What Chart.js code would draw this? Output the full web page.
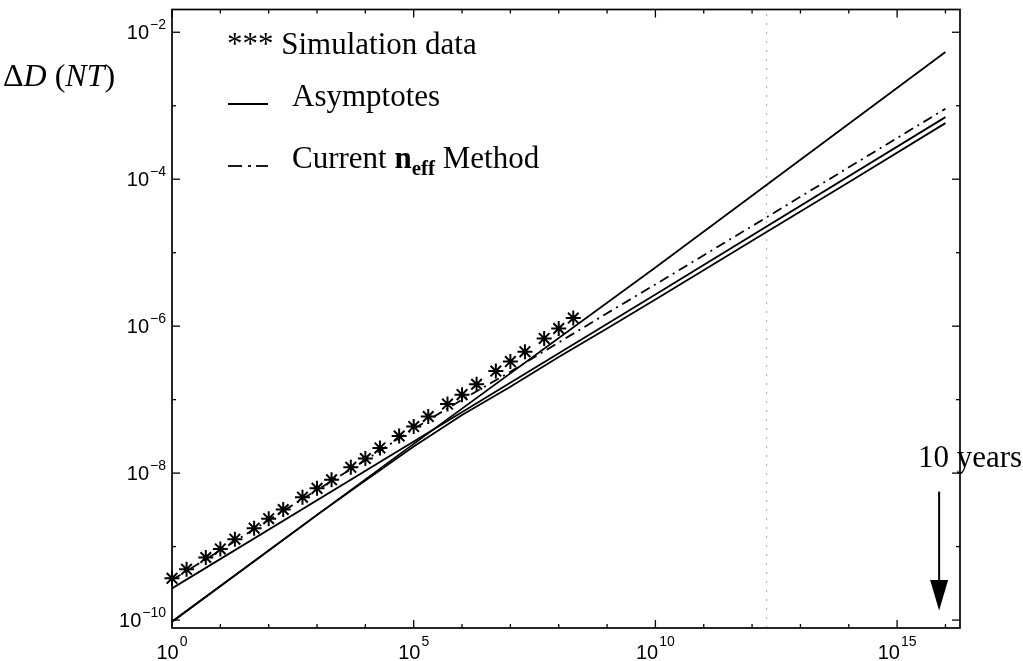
<!DOCTYPE html>
<html>
<head>
<meta charset="utf-8">
<script src="https://cdn.jsdelivr.net/npm/chart.js@4.4.1/dist/chart.umd.min.js"></script>
<style>
  html, body { margin: 0; padding: 0; background: #fff; }
  #wrap { position: relative; width: 1023px; height: 661px; }
</style>
</head>
<body>
<div id="wrap"><canvas id="c"></canvas></div>
<script>
// simulation points (1, 2, 5 per decade)
const simX = [1, 2, 5, 10, 20, 50, 1e2, 2e2, 5e2, 1e3, 2e3, 5e3, 1e4, 2e4, 5e4,
  1e5, 2e5, 5e5, 1e6, 2e6, 5e6, 1e7, 2e7, 5e7, 1e8, 2e8];
const simY = [3.7e-10, 4.9e-10, 7.1e-10, 9.3e-10, 1.26e-9, 1.78e-9, 2.4e-9, 3.2e-9, 4.7e-9,
  6.2e-9, 8.1e-9, 1.2e-8, 1.58e-8, 2.2e-8, 3.2e-8, 4.3e-8, 5.9e-8, 8.7e-8, 1.17e-7,
  1.62e-7, 2.45e-7, 3.3e-7, 4.5e-7, 6.8e-7, 9.3e-7, 1.29e-6];

// asymptotes (solid)
const asymA_X = [1, 1e5, 1e10, 1e16];
const asymA_Y = [9.5e-11, 2.5e-8, 6.3e-6, 5.4e-3];
const asymB_X = [1, 1e5, 1e10, 1e16];
const asymB_Y = [2.7e-10, 2.7e-8, 2.7e-6, 7.0e-4];
const asymC_X = [1, 1e3, 1e4, 1e5, 1e6, 1e7, 1e8, 1e9, 1e10, 1e12, 1e14, 1e16];
const asymC_Y = [9.5e-11, 2.7e-9, 7.9e-9, 2.3e-8, 6.2e-8, 1.5e-7, 3.8e-7, 9.3e-7, 2.3e-6, 1.45e-5, 9.1e-5, 5.8e-4];

// current n_eff method (dash-dot)
const neffX = [1, 10, 1e2, 1e3, 1e4, 1e5, 1e6, 1e7, 1e8, 1e9, 1e10, 1e12, 1e14, 1e16];
const neffY = [3.5e-10, 8.9e-10, 2.3e-9, 5.9e-9, 1.5e-8, 4.0e-8, 1.0e-7, 2.4e-7, 6.0e-7,
  1.5e-6, 3.7e-6, 2.3e-5, 1.45e-4, 9.1e-4];

// faint dotted fold line of the scan
const foldX = [2e12, 2e12];
const foldY = [7.8e-11, 2.04e-2];

// axes
const xMin = 1, xMax = 2e16, yMin = 7.8e-11, yMax = 2.04e-2;
const xTicks = [1, 1e1, 1e2, 1e3, 1e4, 1e5, 1e6, 1e7, 1e8, 1e9, 1e10, 1e11, 1e12, 1e13, 1e14, 1e15, 1e16];
const xLabelTicks = [1, 1e5, 1e10, 1e15];
const xLabelExp = ['0', '5', '10', '15'];
const yTicks = [1e-10, 1e-9, 1e-8, 1e-7, 1e-6, 1e-5, 1e-4, 1e-3, 1e-2];
const yLabelTicks = [1e-10, 1e-8, 1e-6, 1e-4, 1e-2];
const yLabelExp = ['\u221210', '\u22128', '\u22126', '\u22124', '\u22122'];

// "10 years" arrow
const arrowX = 7.4e15;
const arrowFromY = 5.6e-9, arrowHeadY = 3.5e-10, arrowToY = 1.35e-10;

const pts = (xs, ys) => xs.map((v, i) => ({ x: v, y: ys[i] }));

const SERIF = '"Liberation Serif", "Times New Roman", serif';
const SANS = '"Liberation Sans", Arial, sans-serif';

const decor = {
  id: 'decor',
  afterDraw(chart) {
    const { ctx, chartArea: a, scales: { x, y } } = chart;
    ctx.save();
    ctx.strokeStyle = '#000';
    ctx.fillStyle = '#000';

    // frame
    ctx.lineWidth = 1.7;
    ctx.strokeRect(a.left, a.top, a.right - a.left, a.bottom - a.top);

    // ticks, inward on all four sides
    ctx.lineWidth = 1.3;
    const seg = (x1, y1, x2, y2) => { ctx.beginPath(); ctx.moveTo(x1, y1); ctx.lineTo(x2, y2); ctx.stroke(); };
    xTicks.forEach(v => {
      const px = x.getPixelForValue(v);
      const len = xLabelTicks.includes(v) ? 8 : 4;
      seg(px, a.bottom, px, a.bottom - len);
      seg(px, a.top, px, a.top + len);
    });
    yTicks.forEach(v => {
      const py = y.getPixelForValue(v);
      const len = yLabelTicks.includes(v) ? 8 : 4;
      seg(a.left, py, a.left + len, py);
      seg(a.right, py, a.right - len, py);
    });

    // x tick labels: 10 with superscript
    ctx.textBaseline = 'alphabetic';
    xLabelTicks.forEach((v, i) => {
      const px = x.getPixelForValue(v);
      ctx.font = '20px ' + SANS;
      const wb = ctx.measureText('10').width;
      ctx.font = '14px ' + SANS;
      const we = ctx.measureText(xLabelExp[i]).width;
      const left = px - (wb + 1 + we) / 2;
      ctx.textAlign = 'left';
      ctx.font = '20px ' + SANS;
      ctx.fillText('10', left, 659);
      ctx.font = '14px ' + SANS;
      ctx.fillText(xLabelExp[i], left + wb + 1, 646);
    });

    // y tick labels
    yLabelTicks.forEach((v, i) => {
      const py = y.getPixelForValue(v);
      ctx.font = '14px ' + SANS;
      const we = ctx.measureText(yLabelExp[i]).width;
      ctx.textAlign = 'left';
      const right = 166;
      ctx.fillText(yLabelExp[i], right - we, py - 3.5);
      ctx.font = '20px ' + SANS;
      const wb = ctx.measureText('10').width;
      ctx.fillText('10', right - we - 1 - wb, py + 7);
    });

    // y axis title: ΔD (NT)
    let tx = 3;
    const ty = 86;
    const part = (txt, font) => { ctx.font = font; ctx.fillText(txt, tx, ty); tx += ctx.measureText(txt).width; };
    part('\u0394', '32px ' + SERIF);
    part('D', 'italic 32px ' + SERIF);
    part(' (', '32px ' + SERIF);
    part('NT', 'italic 32px ' + SERIF);
    part(')', '32px ' + SERIF);

    // legend
    ctx.font = '31px ' + SERIF;
    ctx.fillText('*** Simulation data', 227, 54);

    ctx.lineWidth = 1.8;
    seg(228, 104, 268, 104);
    ctx.fillText('Asymptotes', 292, 106);

    seg(228, 166, 242, 166);
    seg(248, 166, 251, 166);
    seg(256, 166, 268, 166);
    let lx = 292;
    const lpart = (txt, font, by) => { ctx.font = font; ctx.fillText(txt, lx, by); lx += ctx.measureText(txt).width; };
    lpart('Current ', '31px ' + SERIF, 168);
    lpart('n', 'bold 31px ' + SERIF, 168);
    lpart('eff', 'bold 21px ' + SERIF, 175);
    lpart(' Method', '31px ' + SERIF, 168);

    // 10 years arrow
    ctx.font = '31px ' + SERIF;
    ctx.fillText('10 years', 918, 467);
    const ax = x.getPixelForValue(arrowX);
    const y1 = y.getPixelForValue(arrowFromY);
    const y2 = y.getPixelForValue(arrowHeadY);
    const y3 = y.getPixelForValue(arrowToY);
    ctx.lineWidth = 2;
    seg(ax, y1, ax, y2);
    ctx.beginPath();
    ctx.moveTo(ax - 9, y2);
    ctx.lineTo(ax + 9, y2);
    ctx.lineTo(ax, y3);
    ctx.closePath();
    ctx.fill();

    ctx.restore();
  }
};

new Chart(document.getElementById('c'), {
  type: 'scatter',
  data: {
    datasets: [
      { data: pts(simX, simY), showLine: false, pointStyle: 'star', pointRadius: 7.5,
        borderColor: '#000', backgroundColor: '#000', borderWidth: 2, clip: false },
      { data: pts(neffX, neffY), showLine: true, pointRadius: 0, borderColor: '#000',
        borderWidth: 1.8, borderDash: [10, 5, 2, 5] },
      { data: pts(asymA_X, asymA_Y), showLine: true, pointRadius: 0, borderColor: '#000', borderWidth: 1.8 },
      { data: pts(asymB_X, asymB_Y), showLine: true, pointRadius: 0, borderColor: '#000', borderWidth: 1.8 },
      { data: pts(asymC_X, asymC_Y), showLine: true, pointRadius: 0, borderColor: '#000', borderWidth: 1.8 },
      { data: pts(foldX, foldY), showLine: true, pointRadius: 0, borderColor: '#aaa',
        borderWidth: 1, borderDash: [2, 7] }
    ]
  },
  options: {
    responsive: true,
    maintainAspectRatio: false,
    animation: false,
    layout: { padding: { left: 172, right: 63, top: 2, bottom: 33 } },
    plugins: { legend: { display: false }, tooltip: { enabled: false } },
    scales: {
      x: { type: 'logarithmic', min: xMin, max: xMax, display: false },
      y: { type: 'logarithmic', min: yMin, max: yMax, display: false }
    }
  },
  plugins: [decor]
});
</script>
</body>
</html>
